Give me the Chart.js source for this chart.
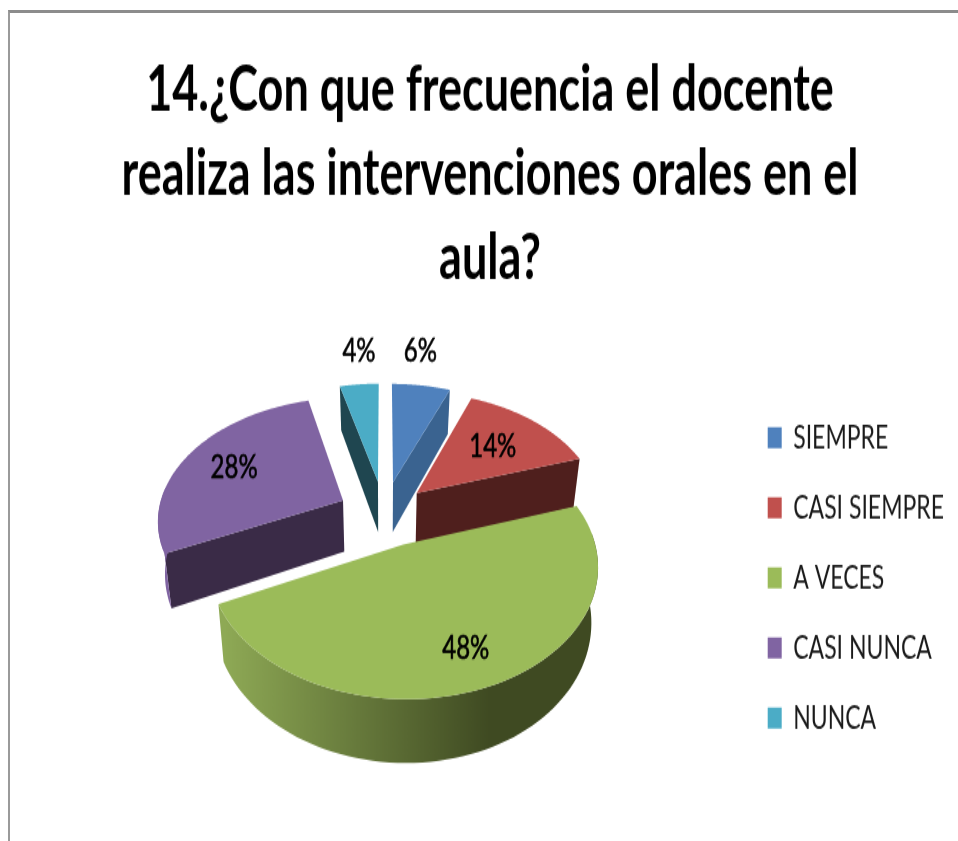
<!DOCTYPE html>
<html>
<head>
<meta charset="utf-8">
<style>
  html, body { margin: 0; padding: 0; background: #fff; overflow: hidden; }
  #frame { position: absolute; left: 8px; top: 10px; width: 950px; height: 831px;
           border-top: 3px solid #8c8c8c; border-left: 2px solid #9a9a9a; box-sizing: border-box; }
  #pie { position: absolute; left: 0; top: 0; transform: scaleY(1.4017); transform-origin: 0 0; }
</style>
<script src="https://cdn.jsdelivr.net/npm/chart.js@4"></script>
</head>
<body>
<div id="frame"></div>
<canvas id="pie" width="958" height="600"></canvas>
<script>
const titleLines = ['14.¿Con que frecuencia el docente', 'realiza las intervenciones orales en el', 'aula?'];
const categories = ['SIEMPRE', 'CASI SIEMPRE', 'A VECES', 'CASI NUNCA', 'NUNCA'];
const values = [6, 14, 48, 28, 4];

const topColors = ['#4F81BD', '#C0504D', '#9BBB59', '#8064A2', '#4BACC6'];
const wallColors = ['#3A6390', '#4F1F1D', '#3F4A22', '#3A2B47', '#1F4650'];
const explode = [50, 46, 50, 46, 50];
const labelReach = [1.41, 0.63, 0.76, 0.7, 1.41];
const labelTurn = [-0.05, 0, 0, 0, 0.03];
const drawOrder = [4, 0, 3, 1, 2];

// fake 3d view, page pixels
const stretch = 841 / 600;
const view = { cx: 384, cy: 513, radius: 185, tilt: 0.655, persp: 0.0008, depth: 52, shrink: 0.0006 };
const fontFamily = 'Lato, "Liberation Sans", sans-serif';

function project(arc, angle, reach, z) {
  const mid = (arc.startAngle + arc.endAngle) / 2;
  const off = arc.options.offset;
  const r = view.radius * reach;
  const X = off * Math.cos(mid) + r * Math.cos(angle);
  const Y = off * Math.sin(mid) + r * Math.sin(angle);
  const w = 1 / (1 - view.persp * Y);
  return { x: view.cx + X * w * (1 - view.shrink * z), y: (view.cy + (view.tilt * Y + z) * w) / stretch };
}

function tracePoints(ctx, pts) {
  ctx.beginPath();
  pts.forEach((p, i) => i ? ctx.lineTo(p.x, p.y) : ctx.moveTo(p.x, p.y));
  ctx.closePath();
}

function arcSamples(arc, z, onlyFront) {
  const n = 80, pts = [];
  for (let i = 0; i <= n; i++) {
    const a = arc.startAngle + (arc.endAngle - arc.startAngle) * i / n;
    if (onlyFront && Math.sin(a) < -0.12) continue;
    pts.push(project(arc, a, 1, z));
  }
  return pts;
}

function drawSlice(ctx, arc, i) {
  const d = view.depth;
  const apexTop = project(arc, arc.startAngle, 0, 0);
  const apexLow = project(arc, arc.startAngle, 0, d);

  // cut faces that look at the viewer
  [[arc.startAngle, -Math.PI / 2], [arc.endAngle, Math.PI / 2]].forEach(([a, turn]) => {
    if (Math.sin(a + turn) > 0.01) {
      tracePoints(ctx, [apexTop, project(arc, a, 1, 0), project(arc, a, 1, d), apexLow]);
      ctx.fillStyle = wallColors[i];
      ctx.fill();
    }
  });

  // outer rim
  const up = arcSamples(arc, 0, true);
  if (up.length > 1) {
    const grad = ctx.createLinearGradient(225, 0, 490, 0);
    grad.addColorStop(0, i === 2 ? '#8EA955' : topColors[i]);
    grad.addColorStop(1, wallColors[i]);
    tracePoints(ctx, up.concat(arcSamples(arc, d, true).reverse()));
    ctx.fillStyle = grad;
    ctx.fill();
  }

  // top face
  tracePoints(ctx, [apexTop].concat(arcSamples(arc, 0, false)));
  ctx.fillStyle = topColors[i];
  ctx.fill();
}

const pie3d = {
  id: 'pie3d',
  beforeDatasetsDraw(chart) {
    const ctx = chart.ctx;
    const arcs = chart.getDatasetMeta(0).data;
    ctx.save();
    drawOrder.forEach(i => drawSlice(ctx, arcs[i], i));
    ctx.restore();
    return false;
  },
  afterDraw(chart) {
    const ctx = chart.ctx;
    const arcs = chart.getDatasetMeta(0).data;
    ctx.save();
    ctx.font = '24px ' + fontFamily;
    ctx.fillStyle = '#000';
    ctx.strokeStyle = '#000';
    ctx.lineWidth = 0.5;
    ctx.textAlign = 'center';
    ctx.textBaseline = 'middle';
    arcs.forEach((arc, i) => {
      const mid = (arc.startAngle + arc.endAngle) / 2 + labelTurn[i];
      const p = project(arc, mid, labelReach[i], 0);
      ctx.fillText(values[i] + '%', p.x, p.y);
      ctx.strokeText(values[i] + '%', p.x, p.y);
    });
    ctx.restore();
  }
};

new Chart(document.getElementById('pie'), {
  type: 'pie',
  data: {
    labels: categories,
    datasets: [{
      data: values,
      backgroundColor: topColors,
      borderWidth: 0,
      offset: explode,
      hoverOffset: 0
    }]
  },
  plugins: [pie3d],
  options: {
    responsive: false,
    animation: false,
    events: [],
    layout: { padding: { left: 26, right: 4, top: 0, bottom: 0 } },
    plugins: {
      tooltip: { enabled: false },
      title: {
        display: true,
        text: titleLines,
        color: '#000',
        font: { family: fontFamily, size: 45, weight: 'bold', lineHeight: 1.338 },
        padding: { top: 34, bottom: 10 }
      },
      legend: {
        position: 'right',
        fullSize: false,
        labels: {
          color: '#1a1a1a',
          boxWidth: 14,
          boxHeight: 15,
          padding: 27,
          font: { family: fontFamily, size: 23 }
        }
      }
    }
  }
});
</script>
</body>
</html>
